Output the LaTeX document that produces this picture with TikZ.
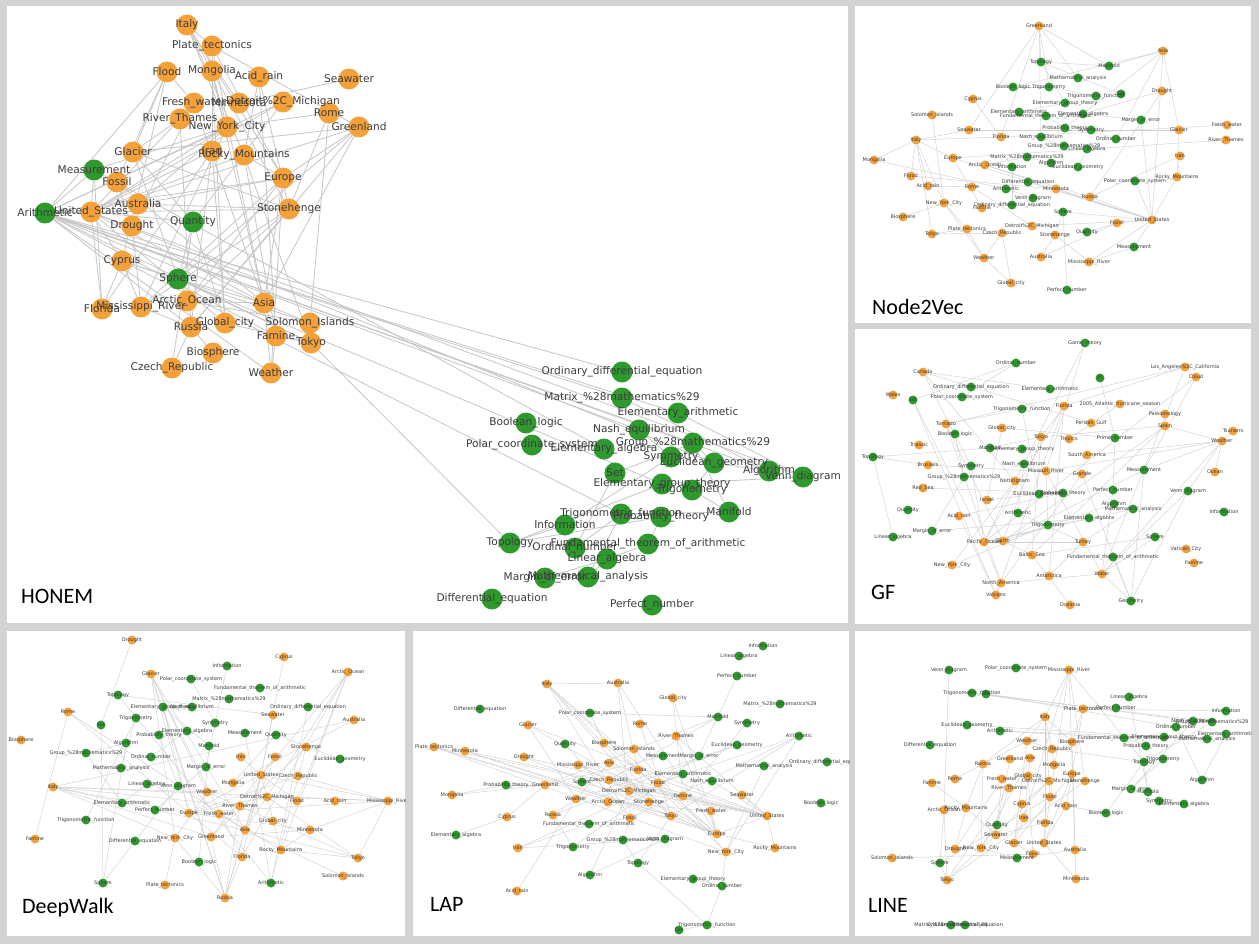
\documentclass[tikz,border=0pt]{standalone}
\usepackage{fontspec}
\newfontfamily\labelfont{DejaVu Sans}
\newfontfamily\titlefont{Carlito}
\pgfdeclarelayer{back}
\pgfsetlayers{back,main}
\definecolor{colo}{HTML}{F4A13A}
\definecolor{colg}{HTML}{2E9A2E}
\definecolor{edgegray}{HTML}{C6C6C6}
\definecolor{framegray}{HTML}{D3D3D3}
\definecolor{labgray}{HTML}{3C3C3C}
\tikzset{
  big dot/.style={circle,inner sep=0pt,minimum size=21pt,fill=col#1},
  small dot/.style={circle,inner sep=0pt,minimum size=9pt,fill=col#1},
  big lab/.style={inner sep=0pt,text=labgray,font=\labelfont\fontsize{10.6}{12}\selectfont},
  small lab/.style={inner sep=0pt,text=labgray,font=\labelfont\fontsize{5}{6}\selectfont},
  big edge/.style={draw=edgegray,line width=0.8pt},
  small edge/.style={draw=edgegray!80,line width=0.45pt},
  paneltitle/.style={anchor=base west,inner sep=0pt,font=\titlefont\fontsize{22}{26}\selectfont}
}
% one panel: prefix, node list, edge list, size, panel corners
\newcommand\graphpanel[6]{%
  \begin{pgfonlayer}{back}
    \fill[white] (#5) rectangle (#6);
  \end{pgfonlayer}
  \foreach \n/\x/\y/\col/\lbl in #2 {\node[#4 dot=\col] (#1\n) at (\x,\y) {};}
  \begin{pgfonlayer}{back}
    \foreach \a/\b in #3 {\draw[#4 edge] (#1\a) -- (#1\b);}
  \end{pgfonlayer}
  \begin{scope}
    \clip (#5) rectangle (#6);
    \foreach \n/\x/\y/\col/\lbl in #2 {\node[#4 lab] at (#1\n) {\lbl};}
  \end{scope}
}

% HONEM
\def\honnodes{Italy/187/25/o/Italy, PlateTec/212/46/o/Plate\_tectonics, Flood/167/72/o/Flood,
  Mongolia/212/71/o/Mongolia, AcidRain/259/77/o/Acid\_rain, Seawater/349/79/o/Seawater,
  FreshWater/194/103/o/Fresh\_water, Minnesota/239/103/o/Minnesota, Detroit/283/102/o/Detroit\%2C\_Michigan,
  RiverThames/180/119/o/River\_Thames, NYC/227/127/o/New\_York\_City, Rome/329/113/o/Rome,
  Greenland/359/127/o/Greenland, Glacier/133/152/o/Glacier, Iran/212/151/o/Iran,
  Rocky/244/155/o/Rocky\_Mountains, Measurement/94/170/g/Measurement, Fossil/117/182/o/Fossil,
  Europe/283/178/o/Europe, Arithmetic/45/213/g/Arithmetic, USA/91/212/o/United\_States,
  Australia/138/204/o/Australia, Drought/132/226/o/Drought, Quantity/193/222/g/Quantity,
  Stonehenge/289/209/o/Stonehenge, Cyprus/122/261/o/Cyprus, Sphere/178/279/g/Sphere,
  ArcticOcean/187/301/o/Arctic\_Ocean, Asia/264/303/o/Asia, Florida/102/309/o/Florida,
  Mississippi/141/307/o/Mississippi\_River, Russia/191/327/o/Russia, GlobalCity/225/323/o/Global\_city,
  Solomon/310/323/o/Solomon\_Islands, Famine/276/336/o/Famine, Tokyo/311/343/o/Tokyo,
  Biosphere/213/353/o/Biosphere, Czech/172/368/o/Czech\_Republic, Weather/271/373/o/Weather,
  ODE/622/372/g/Ordinary\_differential\_equation, Matrix/622/398/g/Matrix\_\%28mathematics\%29,
  ElemArith/678/413/g/Elementary\_arithmetic, Boolean/526/423/g/Boolean\_logic,
  Nash/639/430/g/Nash\_equilibrium, Polar/532/445/g/Polar\_coordinate\_system,
  ElemAlg/604/449/g/Elementary\_algebra, Group/693/443/g/Group\_\%28mathematics\%29,
  Symmetry/671/457/g/Symmetry, Euclid/714/463/g/Euclidean\_geometry, Algorithm/769/471/g/Algorithm,
  Venn/803/477/g/Venn\_diagram, Set/615/473/g/Set, ElemGroup/662/484/g/Elementary\_group\_theory,
  Trigonometry/692/490/g/Trigonometry, Manifold/729/512/g/Manifold,
  TrigFunc/621/514/g/Trigonometric\_function, Probability/661/517/g/Probability\_theory,
  Information/565/525/g/Information, Topology/510/543/g/Topology,
  Fundamental/648/544/g/Fundamental\_theorem\_of\_arithmetic, Ordinal/575/548/g/Ordinal\_number,
  LinAlg/607/559/g/Linear\_algebra, Margin/545/578/g/Margin\_of\_error,
  MathAnalysis/588/577/g/Mathematical\_analysis, DiffEq/492/599/g/Differential\_equation,
  Perfect/652/605/g/Perfect\_number}
\def\honedges{Italy/PlateTec, Italy/Mongolia, Italy/NYC, Italy/Rocky, Italy/Europe, Italy/Minnesota,
  PlateTec/Greenland, PlateTec/Iran, PlateTec/Europe, PlateTec/Asia,
  Flood/Glacier, Flood/Fossil, Flood/FreshWater, Flood/Cyprus, Flood/Arithmetic,
  Mongolia/NYC, Mongolia/Asia, Mongolia/Stonehenge, Mongolia/GlobalCity,
  AcidRain/Rocky, AcidRain/Stonehenge, AcidRain/Famine, Seawater/Minnesota,
  Rome/Stonehenge, Rome/Solomon, Rome/NYC,
  Greenland/Glacier, Greenland/Europe, Greenland/USA, Greenland/Asia, Greenland/Sphere, Greenland/Russia,
  NYC/USA, NYC/Arithmetic, NYC/Australia, NYC/Measurement, NYC/Mississippi,
  Detroit/USA, Detroit/Arithmetic, Detroit/Quantity,
  RiverThames/USA, RiverThames/Glacier, RiverThames/Russia, FreshWater/Drought, FreshWater/Asia,
  Iran/Russia, Iran/GlobalCity, Iran/USA, Iran/Florida,
  Rocky/USA, Rocky/Europe, Rocky/Tokyo, Rocky/Famine,
  Europe/Australia, Europe/Arithmetic, Europe/Asia, Europe/Weather, Europe/ArcticOcean, Europe/Mississippi,
  Glacier/Quantity, Glacier/Stonehenge, Glacier/Sphere,
  Measurement/Florida, Measurement/Arithmetic, Measurement/USA, Fossil/Drought, Fossil/Asia,
  Arithmetic/USA, Arithmetic/Stonehenge, Arithmetic/Solomon, Arithmetic/Tokyo, Arithmetic/Famine,
  Arithmetic/Weather, Arithmetic/Russia,
  USA/Cyprus, USA/Florida, USA/Quantity, USA/Asia, USA/GlobalCity,
  Australia/Drought, Australia/Stonehenge, Quantity/Sphere, Quantity/GlobalCity, Quantity/Czech,
  Stonehenge/ArcticOcean, Stonehenge/Russia, Stonehenge/Mississippi,
  Cyprus/Sphere, Cyprus/Mississippi, Cyprus/Florida, Cyprus/Solomon, Sphere/Tokyo, Sphere/Asia,
  ArcticOcean/Asia, ArcticOcean/Solomon, Russia/Czech, Russia/Biosphere, GlobalCity/Tokyo,
  Asia/Famine, Asia/Weather, Solomon/Tokyo, Famine/Tokyo, Famine/Weather,
  Mississippi/Drought, Mississippi/Russia,
  Arithmetic/ODE, Arithmetic/Matrix, Arithmetic/ElemArith, Arithmetic/Nash, Arithmetic/Group,
  Arithmetic/Algorithm, USA/Venn, USA/Euclid, Measurement/ElemAlg, Cyprus/TrigFunc,
  Tokyo/Topology, Sphere/ElemGroup,
  Matrix/Algorithm, ElemArith/Venn, Group/Euclid, Group/Manifold, Group/Set, Nash/Symmetry,
  Symmetry/Information, ElemGroup/Topology, ElemGroup/Venn, Euclid/Trigonometry,
  TrigFunc/Ordinal, TrigFunc/MathAnalysis, TrigFunc/Manifold, Probability/Fundamental,
  Probability/Topology, Fundamental/LinAlg, LinAlg/Margin, LinAlg/MathAnalysis, Set/Ordinal,
  Information/Topology, Algorithm/Euclid, Trigonometry/Manifold}

% Node2Vec
\def\ntvnodes{Greenland/1039/26/o/Greenland, Asia/1163/51/o/Asia, Topology/1041/62/g/Topology,
  Manifold/1109/66/g/Manifold, MathAnalysis/1078/78/g/Mathematical\_analysis,
  Boolean/1013/87/g/Boolean\_logic, Trigonometry/1049/87/g/Trigonometry, Drought/1162/91/o/Drought,
  TrigFunc/1096/96/g/Trigonometric\_function, Set/1121/94/g/Set, Cyprus/973/99/o/Cyprus,
  ElemGroup/1065/103/g/Elementary\_group\_theory, Solomon/932/115/o/Solomon\_Islands,
  ElemArith/1019/112/g/Elementary\_arithmetic, Fundamental/1046/116/g/Fundamental\_theorem\_of\_arithmetic,
  ElemAlg/1083/114/g/Elementary\_algebra, Margin/1141/120/g/Margin\_of\_error,
  FreshWater/1227/125/o/Fresh\_water, Seawater/969/130/o/Seawater,
  Probability/1065/128/g/Probability\_theory, Symmetry/1091/130/g/Symmetry, Glacier/1179/130/o/Glacier,
  Nash/1041/137/g/Nash\_equilibrium, Italy/916/140/o/Italy, Florida/1001/137/o/Florida,
  Ordinal/1116/139/g/Ordinal\_number, RiverThames/1226/140/o/River\_Thames,
  Group/1064/146/g/Group\_\%28mathematics\%29, LinAlg/1087/149/g/Linear\_algebra, Iran/1180/156/o/Iran,
  Mongolia/874/160/o/Mongolia, Europe/953/158/o/Europe, Matrix/1027/157/g/Matrix\_\%28mathematics\%29,
  ArcticOcean/985/165/o/Arctic\_Ocean, Algorithm/1051/163/g/Algorithm,
  Information/1012/167/g/Information, Euclid/1078/167/g/Euclidean\_geometry, Flood/911/176/o/Flood,
  DiffEq/1028/182/g/Differential\_equation, Rocky/1177/177/o/Rocky\_Mountains,
  Polar/1135/181/g/Polar\_coordinate\_system, AcidRain/928/186/o/Acid\_rain, Rome/972/187/o/Rome,
  Arithmetic/1006/189/g/Arithmetic, Minnesota/1056/189/o/Minnesota, Russia/1090/197/o/Russia,
  Venn/1033/198/g/Venn\_diagram, NYC/944/203/o/New\_York\_City,
  ODE/1012/205/g/Ordinary\_differential\_equation, Famine/982/208/o/Famine, Sphere/1063/212/g/Sphere,
  Biosphere/903/217/o/Biosphere, Fossil/1117/223/o/Fossil, USA/1152/220/o/United\_States,
  Detroit/1032/226/o/Detroit\%2C\_Michigan, PlateTec/967/229/o/Plate\_tectonics,
  Czech/1002/233/o/Czech\_Republic, Tokyo/932/234/o/Tokyo, Quantity/1087/232/g/Quantity,
  Stonehenge/1055/235/o/Stonehenge, Measurement/1134/247/g/Measurement, Weather/984/258/o/Weather,
  Australia/1041/257/o/Australia, Mississippi/1089/262/o/Mississippi\_River,
  GlobalCity/1011/283/o/Global\_city, Perfect/1067/290/g/Perfect\_number}
\def\ntvedges{Greenland/Topology, Greenland/Seawater, Greenland/Florida, Greenland/Trigonometry,
  Greenland/Manifold, Greenland/Nash, Greenland/MathAnalysis,
  Asia/Manifold, Asia/Boolean, Asia/Glacier, Asia/USA, Asia/Ordinal, Asia/Probability,
  Topology/Manifold, Topology/ElemGroup, Drought/Russia, Drought/ElemAlg,
  Italy/Europe, Italy/Mongolia, Italy/Flood, Italy/Tokyo, Italy/AcidRain, Italy/NYC, Italy/Seawater, Italy/Florida,
  Solomon/NYC, Cyprus/Florida, Seawater/Glacier, FreshWater/Florida, RiverThames/Europe,
  Europe/USA, ArcticOcean/USA, Minnesota/USA, Russia/USA, Fossil/USA, Sphere/USA, Detroit/USA,
  Measurement/USA, Rocky/USA, Polar/USA, Mississippi/USA, Margin/USA, DiffEq/USA, ArcticOcean/Russia,
  Rocky/Iran, Rocky/Glacier, Iran/Russia, Mongolia/Arithmetic, Flood/Minnesota, AcidRain/Rome,
  Rome/Detroit, NYC/Biosphere, NYC/Weather, NYC/PlateTec, Tokyo/PlateTec, Tokyo/Czech,
  PlateTec/Weather, Weather/GlobalCity, Weather/Czech, Australia/Stonehenge, Australia/Fossil,
  Stonehenge/Mississippi, Stonehenge/Sphere, Quantity/Fossil, Mississippi/Measurement,
  GlobalCity/Czech, Perfect/Sphere, Boolean/Trigonometry, ElemArith/ElemGroup,
  Fundamental/Probability, Nash/Group, Matrix/Algorithm, Matrix/ArcticOcean, Information/ODE,
  Venn/Arithmetic, Euclid/LinAlg, Symmetry/Ordinal, ElemAlg/Margin, Trigonometry/TrigFunc,
  Set/Topology, Famine/Europe}

% GF
\def\gfnodes{GameTheory/1085/343/g/Game\_theory, Ordinal/1016/363/g/Ordinal\_number,
  Canada/923/372/o/Canada, LosAngeles/1185/367/o/Los\_Angeles\%2C\_California, Pi/1100/378/g/Pi,
  Cloud/1196/377/o/Cloud, ODE/971/387/g/Ordinary\_differential\_equation,
  ElemArith/1050/389/g/Elementary\_arithmetic, Wales/893/395/o/Wales, Set/913/400/g/Set,
  Polar/962/397/g/Polar\_coordinate\_system, TrigFunc/1022/409/g/Trigonometric\_function,
  Florida/1064/406/o/Florida, Hurricane/1120/404/o/2005\_Atlantic\_hurricane\_season,
  Paleontology/1165/414/o/Paleontology, Tornado/946/424/o/Tornado, Spain/1165/426/o/Spain,
  PersianGulf/1091/423/o/Persian\_Gulf, GlobalCity/1002/428/o/Global\_city, Tsunami/1233/431/o/Tsunami,
  Boolean/955/434/g/Boolean\_logic, Tokyo/1041/437/o/Tokyo, Tropics/1069/439/o/Tropics,
  PrimeNumber/1115/438/g/Prime\_number, Weather/1222/441/o/Weather, Triassic/919/445/o/Triassic,
  Manifold/990/448/g/Manifold, ElemGroup/1022/449/g/Elementary\_group\_theory,
  SouthAmerica/1087/455/o/South\_America, Topology/873/457/g/Topology, Brussels/928/465/o/Brussels,
  Symmetry/971/466/g/Symmetry, Nash/1024/464/g/Nash\_equilibrium, Missouri/1046/471/o/Missouri\_River,
  Measurement/1144/470/g/Measurement, Grande/1082/474/o/Grande, Ocean/1215/472/o/Ocean,
  Group/964/477/g/Group\_\%28mathematics\%29, Nottingham/1015/481/o/Nottingham,
  RedSea/923/488/o/Red\_Sea, Perfect/1113/490/g/Perfect\_number, Venn/1188/491/g/Venn\_diagram,
  Euclid/1039/494/g/Euclidean\_geometry, Probability/1063/493/g/Probability\_theory,
  Israel/987/500/o/Israel, Algorithm/1114/504/g/Algorithm, MathAnalysis/1133/509/g/Mathematical\_analysis,
  Quantity/908/510/g/Quantity, Information/1224/512/g/Information, AcidRain/959/516/o/Acid\_rain,
  Arithmetic/1018/513/g/Arithmetic, ElemAlg/1089/518/g/Elementary\_algebra,
  Trigonometry/1048/525/g/Trigonometry, Margin/932/531/g/Margin\_of\_error,
  LinAlg/893/537/g/Linear\_algebra, Sphere/1155/537/g/Sphere, Pacific/984/542/o/Pacific\_Ocean,
  Earth/1003/541/o/Earth, Turkey/1083/542/o/Turkey, Vatican/1186/549/o/Vatican\_City,
  Baltic/1032/555/o/Baltic\_Sea, Fundamental/1113/557/g/Fundamental\_theorem\_of\_arithmetic,
  Famine/1194/563/o/Famine, NYC/952/565/o/New\_York\_City, Water/1102/574/o/Water,
  Antarctica/1049/576/o/Antarctica, NorthAmerica/1001/583/o/North\_America,
  Volcano/996/595/o/Volcano, Oceania/1070/605/o/Oceania, Geometry/1131/601/g/Geometry}
\def\gfedges{GameTheory/Missouri, GameTheory/Pacific, Canada/Nottingham, Canada/Symmetry,
  Canada/PersianGulf, Canada/ElemArith, Ordinal/Polar, Ordinal/Set, LosAngeles/Florida,
  LosAngeles/Tornado, LosAngeles/Water, Cloud/Measurement, Cloud/Pacific, Pi/PrimeNumber,
  Weather/Spain, Weather/Measurement, Weather/Tsunami, Weather/Ocean, Weather/SouthAmerica,
  Weather/Water, Weather/Venn, Weather/Missouri, Spain/Paleontology, Spain/Earth, Spain/Baltic,
  Spain/Tokyo, Florida/Tokyo, Florida/Pacific, Florida/Antarctica, Florida/Volcano,
  TrigFunc/Tornado, TrigFunc/Euclid, Set/Pacific, Set/Volcano, Tornado/NorthAmerica, Tornado/Earth,
  Boolean/Group, Topology/Manifold, Topology/Brussels, Topology/LinAlg, Brussels/Grande,
  GlobalCity/Israel, GlobalCity/PrimeNumber, Manifold/ElemGroup, Manifold/Tokyo, Nash/Arithmetic,
  Tokyo/Earth, Tokyo/Baltic, Missouri/Water, Missouri/Trigonometry, Measurement/Geometry,
  Measurement/Earth, Grande/Geometry, Grande/NorthAmerica, Group/Margin, Nottingham/NYC,
  RedSea/Probability, Perfect/Water, Perfect/PrimeNumber, Venn/Geometry, Venn/Water,
  Euclid/Israel, Probability/AcidRain, Algorithm/Earth, MathAnalysis/Turkey, MathAnalysis/Pacific,
  AcidRain/Volcano, Arithmetic/Turkey, ElemAlg/Pacific, Trigonometry/NYC, Margin/ElemAlg,
  Sphere/Water, Sphere/Baltic, Pacific/Turkey, Pacific/NorthAmerica, Earth/Baltic,
  Turkey/Antarctica, Fundamental/Geometry, Water/Geometry, Water/NorthAmerica,
  NorthAmerica/Volcano, Baltic/Oceania, Hurricane/Tropics, Symmetry/Pacific}

% DeepWalk
\def\dwnodes{Drought/132/640/o/Drought, Cyprus/284/657/o/Cyprus, Information/227/666/g/Information,
  ArcticOcean/348/672/o/Arctic\_Ocean, Glacier/151/674/o/Glacier, Polar/191/679/g/Polar\_coordinate\_system,
  Fundamental/260/688/g/Fundamental\_theorem\_of\_arithmetic, Topology/118/695/g/Topology,
  Matrix/229/699/g/Matrix\_\%28mathematics\%29, ElemGroup/163/707/g/Elementary\_group\_theory,
  Nash/192/707/g/Nash\_equilibrium, ODE/308/707/g/Ordinary\_differential\_equation, Rome/68/712/o/Rome,
  Seawater/273/715/o/Seawater, Trigonometry/136/718/g/Trigonometry, Australia/354/720/o/Australia,
  Set/101/725/g/Set, Symmetry/215/723/g/Symmetry, ElemAlg/187/731/g/Elementary\_algebra,
  Probability/159/735/g/Probability\_theory, Measurement/245/733/g/Measurement,
  Quantity/276/735/g/Quantity, Biosphere/21/740/o/Biosphere, Algorithm/126/743/g/Algorithm,
  Manifold/209/746/g/Manifold, Stonehenge/306/747/o/Stonehenge, Group/86/753/g/Group\_\%28mathematics\%29,
  Ordinal/151/757/g/Ordinal\_number, Iran/241/757/o/Iran, Fossil/275/757/o/Fossil,
  Euclid/340/759/g/Euclidean\_geometry, MathAnalysis/121/768/g/Mathematical\_analysis,
  Margin/206/767/g/Margin\_of\_error, USA/261/775/o/United\_States, Czech/298/776/o/Czech\_Republic,
  Italy/53/787/o/Italy, LinAlg/147/784/g/Linear\_algebra, Venn/178/786/g/Venn\_diagram,
  Mongolia/233/783/o/Mongolia, Weather/207/792/o/Weather, Detroit/267/797/o/Detroit\%2C\_Michigan,
  Flood/297/801/o/Flood, AcidRain/335/801/o/Acid\_rain, Mississippi/388/801/o/Mississippi\_River,
  ElemArith/122/803/g/Elementary\_arithmetic, RiverThames/240/806/o/River\_Thames,
  Perfect/155/810/g/Perfect\_number, Europe/189/813/o/Europe, FreshWater/219/814/o/Fresh\_water,
  TrigFunc/86/820/g/Trigonometric\_function, GlobalCity/273/821/o/Global\_city, Asia/245/830/o/Asia,
  Minnesota/310/830/o/Minnesota, Famine/35/839/o/Famine, DiffEq/135/841/g/Differential\_equation,
  NYC/175/838/o/New\_York\_City, Greenland/211/837/o/Greenland, Rocky/281/850/o/Rocky\_Mountains,
  Tokyo/358/858/o/Tokyo, Florida/242/857/o/Florida, Boolean/199/862/g/Boolean\_logic,
  Solomon/343/876/o/Solomon\_Islands, Sphere/103/883/g/Sphere, PlateTec/165/885/o/Plate\_tectonics,
  Arithmetic/271/883/g/Arithmetic, Russia/225/898/o/Russia}
\def\dwedges{Drought/Set, Rome/Famine, Rome/Europe, Rome/Asia, Italy/Mississippi, Italy/NYC,
  Italy/Europe, Italy/Weather, Italy/Asia, Italy/Greenland, Italy/Australia, Glacier/NYC,
  Glacier/Russia, Glacier/Europe, Glacier/Asia, Glacier/Florida, Cyprus/USA, ArcticOcean/USA,
  ArcticOcean/Asia, ArcticOcean/Florida, ArcticOcean/Rocky, ArcticOcean/Flood, Topology/Seawater,
  ElemGroup/Russia, ElemGroup/Europe, ElemGroup/Manifold, Polar/Symmetry, Australia/Mongolia,
  USA/Europe, USA/Iran, USA/Flood, USA/Russia, USA/Mississippi, USA/Seawater, USA/Asia,
  USA/Greenland, USA/Florida, USA/Rocky, USA/Fossil, Mississippi/Europe, Mississippi/Minnesota,
  Mississippi/Tokyo, Mississippi/Detroit, Stonehenge/Greenland, Stonehenge/Arithmetic,
  Quantity/Mongolia, Fossil/Asia, Czech/Europe, Czech/Mississippi, Detroit/Europe, Detroit/Tokyo,
  RiverThames/Russia, RiverThames/Italy, Weather/NYC, Weather/Tokyo, Europe/Florida,
  Europe/Minnesota, FreshWater/Rocky, Asia/Russia, Asia/Solomon, Asia/Tokyo, Greenland/Russia,
  Greenland/Minnesota, Minnesota/Rocky, Rocky/Tokyo, NYC/Russia, NYC/PlateTec, Florida/Russia,
  Group/ElemArith, Group/Algorithm, Set/Sphere, Algorithm/Sphere, Trigonometry/MathAnalysis,
  Trigonometry/TrigFunc, Ordinal/ElemAlg, ElemArith/LinAlg, Venn/DiffEq, DiffEq/Sphere,
  Perfect/Margin, Margin/Information, Probability/Venn, Boolean/Manifold, Arithmetic/Measurement,
  Quantity/Euclid, ODE/Arithmetic, Glacier/Weather, Topology/Arithmetic}

% LAP
\def\lapnodes{Information/763/646/g/Information, LinAlg/739/656/g/Linear\_algebra,
  Perfect/737/676/g/Perfect\_number, Italy/547/684/o/Italy, Australia/618/683/o/Australia,
  GlobalCity/673/698/o/Global\_city, Matrix/780/704/g/Matrix\_\%28mathematics\%29,
  DiffEq/480/709/g/Differential\_equation, Polar/590/713/g/Polar\_coordinate\_system,
  Manifold/718/717/g/Manifold, Rome/640/724/o/Rome, Symmetry/747/723/g/Symmetry,
  Glacier/528/725/o/Glacier, RiverThames/676/736/o/River\_Thames, Arithmetic/799/736/g/Arithmetic,
  PlateTec/434/747/o/Plate\_tectonics, Quantity/565/744/g/Quantity, Biosphere/604/743/o/Biosphere,
  Euclid/737/745/g/Euclidean\_geometry, Solomon/634/749/o/Solomon\_Islands,
  Minnesota/465/751/o/Minnesota, Drought/524/757/o/Drought, Measurement/663/756/g/Measurement,
  Margin/699/756/g/Margin\_of\_error, Mississippi/578/765/o/Mississippi\_River, Asia/609/763/o/Asia,
  ODE/827/762/g/Ordinary\_differential\_equation, MathAnalysis/764/766/g/Mathematical\_analysis,
  Florida/638/770/o/Florida, ElemArith/683/774/g/Elementary\_arithmetic,
  Nash/712/781/g/Nash\_equilibrium, Probability/506/785/g/Probability\_theory,
  Greenland/545/785/o/Greenland, Sphere/582/782/g/Sphere, Czech/609/780/o/Czech\_Republic,
  Flood/658/783/o/Flood, Mongolia/452/795/o/Mongolia, Detroit/629/791/o/Detroit\%2C\_Michigan,
  Famine/683/796/o/Famine, Seawater/742/795/o/Seawater, Weather/576/799/o/Weather,
  ArcticOcean/608/802/o/Arctic\_Ocean, Stonehenge/649/802/o/Stonehenge,
  Boolean/821/803/g/Boolean\_logic, FreshWater/711/811/o/Fresh\_water, Cyprus/507/817/o/Cyprus,
  Russia/553/815/o/Russia, Fossil/630/818/o/Fossil, Tokyo/671/816/o/Tokyo,
  USA/767/816/o/United\_States, Fundamental/589/824/g/Fundamental\_theorem\_of\_arithmetic,
  ElemAlg/456/835/g/Elementary\_algebra, Europe/717/834/o/Europe,
  Group/623/840/g/Group\_\%28mathematics\%29, Venn/665/839/g/Venn\_diagram, Iran/518/848/o/Iran,
  Trigonometry/573/847/g/Trigonometry, NYC/726/852/o/New\_York\_City,
  Rocky/775/848/o/Rocky\_Mountains, Topology/638/863/g/Topology, Algorithm/590/875/g/Algorithm,
  ElemGroup/693/879/g/Elementary\_group\_theory, Ordinal/722/886/g/Ordinal\_number,
  AcidRain/517/891/o/Acid\_rain, TrigFunc/707/925/g/Trigonometric\_function, Set/679/930/g/Set}
\def\lapedges{Italy/Australia, Italy/Europe, Italy/Tokyo, Italy/Fossil, Italy/Stonehenge, Italy/NYC,
  Australia/Fossil, Australia/Europe, Australia/Florida, Glacier/USA, Glacier/Weather, Glacier/Europe,
  PlateTec/USA, PlateTec/Europe, PlateTec/Tokyo, PlateTec/NYC, Minnesota/Tokyo, Minnesota/USA,
  Minnesota/Europe, Mongolia/Greenland, Cyprus/Greenland, Cyprus/ElemAlg, Drought/Europe,
  Drought/USA, Mississippi/USA, Mississippi/Europe, Asia/USA, Asia/Tokyo, Asia/Weather,
  Biosphere/Europe, Biosphere/Polar, Solomon/NYC, GlobalCity/Europe, GlobalCity/Famine,
  Rome/Tokyo, RiverThames/Europe, RiverThames/USA, Polar/Manifold, Arithmetic/Flood,
  Arithmetic/Tokyo, Arithmetic/Fossil, Euclid/Weather, Euclid/Russia, Margin/Trigonometry,
  MathAnalysis/NYC, Manifold/Czech, Manifold/Greenland, Symmetry/Famine, Nash/USA, ElemArith/Iran,
  Seawater/USA, FreshWater/Europe, FreshWater/ArcticOcean, Weather/AcidRain, Weather/Russia,
  Russia/Trigonometry, Fossil/Group, Tokyo/Europe, Tokyo/Topology, USA/Europe, USA/Rocky,
  USA/Czech, USA/Detroit, Europe/Rocky, NYC/Ordinal, NYC/Arithmetic, Group/Venn, Group/Topology,
  Iran/Venn, Venn/Algorithm, Topology/TrigFunc, ElemGroup/Ordinal, Ordinal/TrigFunc, TrigFunc/Set,
  Algorithm/Detroit, Fundamental/Iran, Fundamental/Fossil, Sphere/Stonehenge, Probability/Greenland,
  Probability/Mongolia, Greenland/Measurement, Stonehenge/Florida, Perfect/Margin, Quantity/Fossil}

% LINE
\def\linenodes{Venn/949/670/g/Venn\_diagram, Polar/1016/668/g/Polar\_coordinate\_system,
  Mississippi/1069/670/o/Mississippi\_River, TrigFunc/972/693/g/Trigonometric\_function,
  Set/986/694/g/Set, LinAlg/1129/697/g/Linear\_algebra, Perfect/1116/708/g/Perfect\_number,
  PlateTec/1083/709/o/Plate\_tectonics, Information/1226/711/g/Information, Italy/1045/717/o/Italy,
  Nash/1193/721/g/Nash\_equilibrium, Group/1212/722/g/Group\_\%28mathematics\%29,
  Euclid/967/725/g/Euclidean\_geometry, Arithmetic/1000/731/g/Arithmetic,
  Ordinal/1176/727/g/Ordinal\_number, ElemArith/1226/734/g/Elementary\_arithmetic,
  MathAnalysis/1207/739/g/Mathematical\_analysis, Weather/1027/741/o/Weather,
  Biosphere/1072/742/o/Biosphere, Fundamental/1124/738/g/Fundamental\_theorem\_of\_arithmetic,
  ElemGroup/1164/737/g/Elementary\_group\_theory, Probability/1146/746/g/Probability\_theory,
  DiffEq/930/745/g/Differential\_equation, Czech/1052/749/o/Czech\_Republic,
  Greenland/1010/759/o/Greenland, Asia/1030/758/o/Asia, Trigonometry/1163/759/g/Trigonometry,
  Topology/1144/762/g/Topology, Russia/983/764/o/Russia, Mongolia/1054/765/o/Mongolia,
  Europe/1072/774/o/Europe, Rome/955/779/o/Rome, FreshWater/1002/779/o/Fresh\_water,
  GlobalCity/1028/776/o/Global\_city, Stonehenge/1085/781/o/Stonehenge,
  Detroit/1049/781/o/Detroit\%2C\_Michigan, Famine/932/783/o/Famine,
  RiverThames/1009/788/o/River\_Thames, Algorithm/1202/780/g/Algorithm, Flood/1050/797/o/Flood,
  Margin/1131/789/g/Margin\_of\_error, Manifold/1148/792/g/Manifold, Cyprus/1022/804/o/Cyprus,
  AcidRain/1066/806/o/Acid\_rain, Symmetry/1159/801/g/Symmetry, ElemAlg/1184/804/g/Elementary\_algebra,
  ArcticOcean/944/810/o/Arctic\_Ocean, Rocky/966/808/o/Rocky\_Mountains,
  Boolean/1106/813/g/Boolean\_logic, Iran/1024/818/o/Iran, Florida/1045/823/o/Florida,
  Quantity/997/825/g/Quantity, Seawater/996/835/o/Seawater, Glacier/1014/843/o/Glacier,
  USA/1044/843/o/United\_States, Drought/955/849/o/Drought, NYC/981/848/o/New\_York\_City,
  Australia/1075/850/o/Australia, Fossil/1033/854/o/Fossil, Solomon/892/858/o/Solomon\_Islands,
  Measurement/1017/858/g/Measurement, Sphere/940/863/g/Sphere, Tokyo/947/880/o/Tokyo,
  Minnesota/1076/879/o/Minnesota, Matrix/951/925/g/Matrix\_\%28mathematics\%29,
  ODE/965/925/g/Ordinary\_differential\_equation}
\def\lineedges{Venn/ArcticOcean, Mississippi/Italy, Mississippi/Australia, Mississippi/Flood,
  Mississippi/Iran, Mississippi/Topology, Mississippi/Stonehenge, TrigFunc/Group, Set/Nash,
  Set/Ordinal, TrigFunc/PlateTec, PlateTec/Information, PlateTec/Europe, PlateTec/Biosphere,
  Italy/Weather, Italy/Florida, Italy/Russia, Italy/Biosphere, Italy/Flood, Italy/Czech,
  Euclid/ElemGroup, Arithmetic/MathAnalysis, Arithmetic/Fundamental, LinAlg/Manifold,
  Ordinal/Algorithm, ElemArith/Algorithm, Nash/Margin, Group/Topology, Trigonometry/Margin,
  Topology/Manifold, Topology/Boolean, Topology/Czech, Weather/Russia, Weather/Czech,
  Weather/Glacier, Biosphere/Australia, Czech/Mongolia, Greenland/Quantity, Asia/Iran, Asia/NYC,
  Russia/Rome, Russia/NYC, Russia/Rocky, Europe/Glacier, Europe/AcidRain, Europe/USA,
  FreshWater/Drought, FreshWater/Seawater, GlobalCity/Fossil, Stonehenge/Tokyo, Detroit/Seawater,
  Detroit/Cyprus, RiverThames/Quantity, RiverThames/Tokyo, Flood/USA, Flood/Sphere, Cyprus/Glacier,
  AcidRain/Boolean, AcidRain/USA, ArcticOcean/Sphere, ArcticOcean/Tokyo, Rocky/Seawater,
  Rocky/Drought, Iran/Glacier, Florida/USA, Florida/Seawater, Quantity/NYC, Seawater/Tokyo,
  Glacier/Fossil, USA/Minnesota, Solomon/Fossil, Drought/NYC, NYC/Measurement,
  Measurement/Australia, Australia/Minnesota, Sphere/Tokyo, Famine/Rocky, Symmetry/ElemAlg,
  Probability/Fundamental}

\begin{document}
\begin{tikzpicture}[x=1pt,y=-1pt]
  \useasboundingbox (0,0) rectangle (1259,944);
  \begin{pgfonlayer}{back}
    \fill[framegray] (0,0) rectangle (1259,944);
  \end{pgfonlayer}
  \graphpanel{hon}{\honnodes}{\honedges}{big}{7,6}{848,623}
  \graphpanel{ntv}{\ntvnodes}{\ntvedges}{small}{855,6}{1251,323}
  \graphpanel{gf}{\gfnodes}{\gfedges}{small}{855,329}{1251,624}
  \graphpanel{dw}{\dwnodes}{\dwedges}{small}{7,631}{405,936}
  \graphpanel{lap}{\lapnodes}{\lapedges}{small}{413,631}{849,936}
  \graphpanel{line}{\linenodes}{\lineedges}{small}{855,631}{1251,936}
  % panel titles
  \node[paneltitle] (honemtitle) at (21,603) {HONEM};
  \node[paneltitle] (ntvtitle) at (872,315) {Node2Vec};
  \node[paneltitle] (gftitle) at (871,599) {GF};
  \node[paneltitle] (dwtitle) at (22,913) {DeepWalk};
  \node[paneltitle] (laptitle) at (430,911) {LAP};
  \node[paneltitle] (linetitle) at (868,912) {LINE};
\end{tikzpicture}
\end{document}
